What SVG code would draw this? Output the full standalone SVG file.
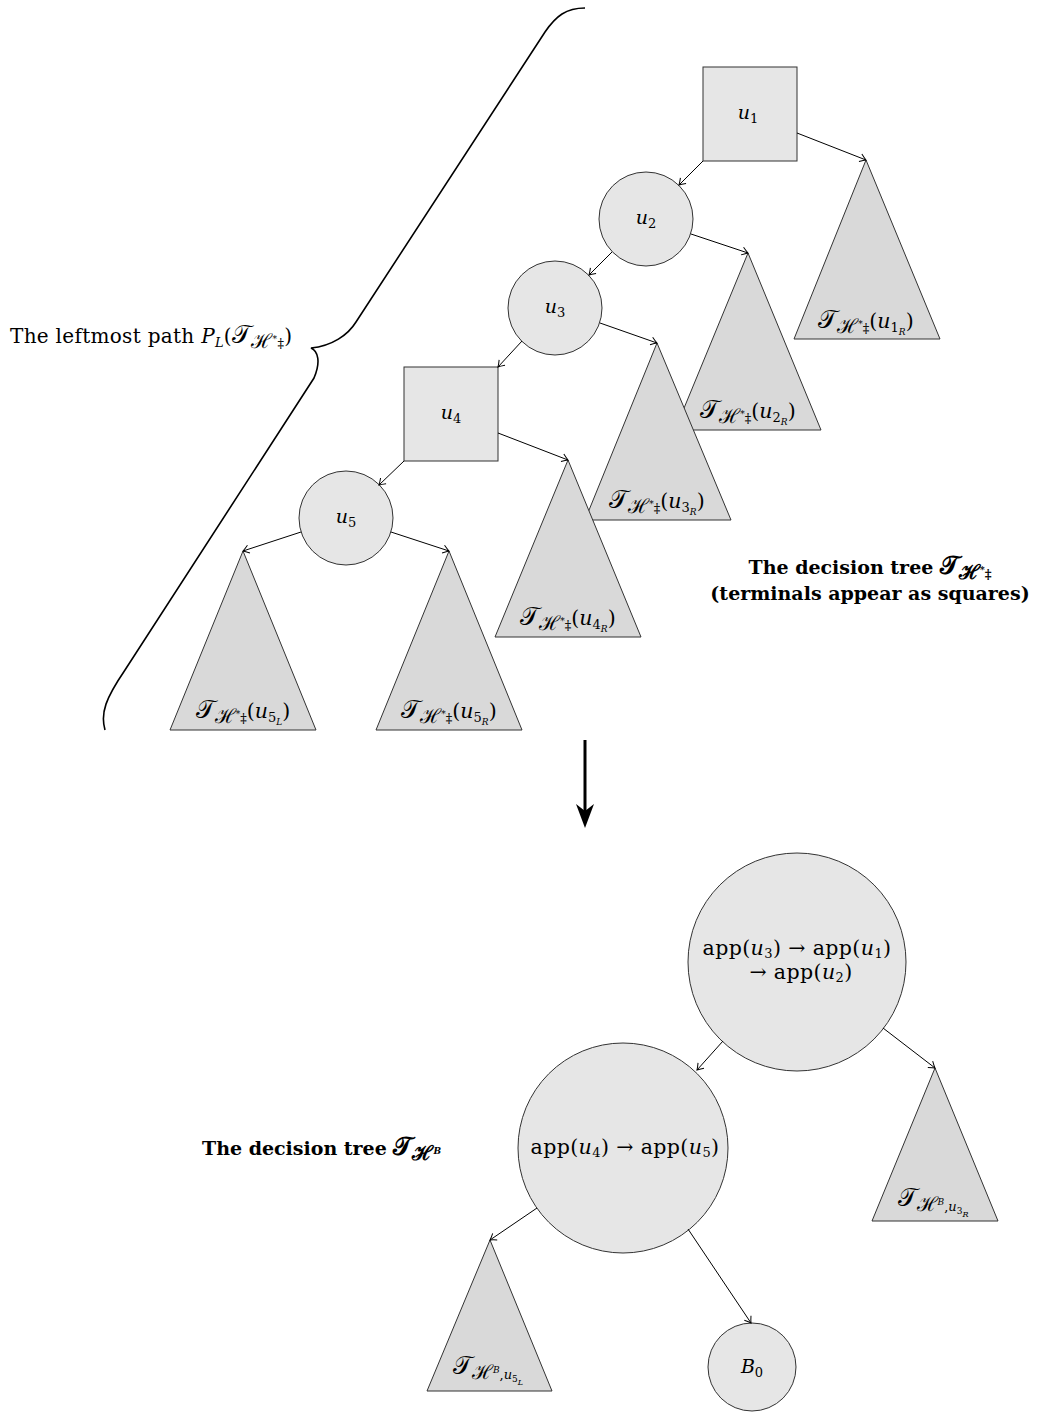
<svg xmlns="http://www.w3.org/2000/svg" width="1038" height="1412" viewBox="0 0 1038 1412">
<style>
text{font-family:"DejaVu Serif","Liberation Serif",serif;font-size:19px;fill:#000}
.b{font-weight:bold;font-size:19px}
.i{font-style:italic}
.s{font-size:13px}
.ss{font-size:9px}
.T{font-size:25px}
.H{font-size:20px}
.lb{font-size:20.5px}
.pl{font-size:20px}
.ap{font-size:20.5px;letter-spacing:0.4px}
.nd{fill:#e6e6e6;stroke:#333;stroke-width:1}
.tr{fill:#d9d9d9;stroke:#333;stroke-width:1}
.e{fill:none;stroke:#000;stroke-width:1;marker-end:url(#a)}
</style>
<defs>
<marker id="a" viewBox="-8 -5 10 10" refX="0" refY="0" markerWidth="10" markerHeight="10" markerUnits="userSpaceOnUse" orient="auto">
<path d="M-6,-4 Q-2,-1 0,0 Q-2,1 -6,4" fill="none" stroke="#000" stroke-width="1"/>
</marker>
</defs>

<g id="brace">
<path d="M585,8 C566,8 556,16 545,32 L356,322 C348,335 332,346 311,348 C318,351 321,362 314,378 L125,670 C106,698 100,713 105,730" fill="none" stroke="#000" stroke-width="1.6"/>
<text class="pl" x="10" y="343" letter-spacing="0.3">The leftmost path <tspan class="i">P</tspan><tspan class="s i" dy="4">L</tspan><tspan dy="-4">(</tspan><tspan class="T">𝒯</tspan><tspan class="H" dy="5">ℋ</tspan><tspan class="ss" dy="-6">*</tspan><tspan class="s" dy="6">‡</tspan><tspan dy="-5">)</tspan></text>
</g>

<g id="T1"><polygon class="tr" points="866,160 940,339 794,339"/>
<text class="lb" x="866" y="328" text-anchor="middle"><tspan class="T">𝒯</tspan><tspan class="H" dy="5">ℋ</tspan><tspan class="ss" dy="-6">*</tspan><tspan class="s" dy="6">‡</tspan><tspan dy="-5">(</tspan><tspan class="i">u</tspan><tspan class="s" dy="4">1</tspan><tspan class="ss i" dy="3">R</tspan><tspan dy="-7">)</tspan></text></g>
<g id="T2"><polygon class="tr" points="748,253 821,430 675,430"/>
<text class="lb" x="748" y="418" text-anchor="middle"><tspan class="T">𝒯</tspan><tspan class="H" dy="5">ℋ</tspan><tspan class="ss" dy="-6">*</tspan><tspan class="s" dy="6">‡</tspan><tspan dy="-5">(</tspan><tspan class="i">u</tspan><tspan class="s" dy="4">2</tspan><tspan class="ss i" dy="3">R</tspan><tspan dy="-7">)</tspan></text></g>
<g id="T3"><polygon class="tr" points="657,343 731,520 585,520"/>
<text class="lb" x="657" y="508" text-anchor="middle"><tspan class="T">𝒯</tspan><tspan class="H" dy="5">ℋ</tspan><tspan class="ss" dy="-6">*</tspan><tspan class="s" dy="6">‡</tspan><tspan dy="-5">(</tspan><tspan class="i">u</tspan><tspan class="s" dy="4">3</tspan><tspan class="ss i" dy="3">R</tspan><tspan dy="-7">)</tspan></text></g>
<g id="T4"><polygon class="tr" points="568,460 641,637 495,637"/>
<text class="lb" x="568" y="625" text-anchor="middle"><tspan class="T">𝒯</tspan><tspan class="H" dy="5">ℋ</tspan><tspan class="ss" dy="-6">*</tspan><tspan class="s" dy="6">‡</tspan><tspan dy="-5">(</tspan><tspan class="i">u</tspan><tspan class="s" dy="4">4</tspan><tspan class="ss i" dy="3">R</tspan><tspan dy="-7">)</tspan></text></g>
<g id="T5L"><polygon class="tr" points="243,551 316,730 170,730"/>
<text class="lb" x="243" y="718" text-anchor="middle"><tspan class="T">𝒯</tspan><tspan class="H" dy="5">ℋ</tspan><tspan class="ss" dy="-6">*</tspan><tspan class="s" dy="6">‡</tspan><tspan dy="-5">(</tspan><tspan class="i">u</tspan><tspan class="s" dy="4">5</tspan><tspan class="ss i" dy="3">L</tspan><tspan dy="-7">)</tspan></text></g>
<g id="T5R"><polygon class="tr" points="449,551 522,730 376,730"/>
<text class="lb" x="449" y="718" text-anchor="middle"><tspan class="T">𝒯</tspan><tspan class="H" dy="5">ℋ</tspan><tspan class="ss" dy="-6">*</tspan><tspan class="s" dy="6">‡</tspan><tspan dy="-5">(</tspan><tspan class="i">u</tspan><tspan class="s" dy="4">5</tspan><tspan class="ss i" dy="3">R</tspan><tspan dy="-7">)</tspan></text></g>

<g id="u1"><rect class="nd" x="703" y="67" width="94" height="94"/>
<text x="748" y="119" text-anchor="middle"><tspan class="i">u</tspan><tspan class="s" dy="4">1</tspan></text></g>
<g id="u2"><circle class="nd" cx="646" cy="219" r="47"/>
<text x="646" y="224" text-anchor="middle"><tspan class="i">u</tspan><tspan class="s" dy="4">2</tspan></text></g>
<g id="u3"><circle class="nd" cx="555" cy="308" r="47"/>
<text x="555" y="313" text-anchor="middle"><tspan class="i">u</tspan><tspan class="s" dy="4">3</tspan></text></g>
<g id="u4"><rect class="nd" x="404" y="367" width="94" height="94"/>
<text x="451" y="419" text-anchor="middle"><tspan class="i">u</tspan><tspan class="s" dy="4">4</tspan></text></g>
<g id="u5"><circle class="nd" cx="346" cy="518" r="47"/>
<text x="346" y="523" text-anchor="middle"><tspan class="i">u</tspan><tspan class="s" dy="4">5</tspan></text></g>

<g id="caption1">
<text class="b" x="870" y="574" text-anchor="middle">The decision tree <tspan class="T">𝒯</tspan><tspan class="H" dy="5">ℋ</tspan><tspan class="ss" dy="-6">*</tspan><tspan class="s" dy="6">‡</tspan></text>
<text class="b" x="870" y="600" text-anchor="middle">(terminals appear as squares)</text>
</g>

<g id="bigarrow">
<line x1="585" y1="740" x2="585" y2="812" stroke="#000" stroke-width="3"/>
<polygon points="585,828 576,804 585,811 594,804" fill="#000"/>
</g>

<g id="R3"><polygon class="tr" points="935,1068 998,1221 872,1221"/>
<text class="lb" x="933" y="1206" text-anchor="middle"><tspan class="T">𝒯</tspan><tspan class="H" dy="5">ℋ</tspan><tspan class="ss i" dy="-6">B</tspan><tspan class="s" dy="6">,</tspan><tspan class="s i">u</tspan><tspan class="ss" dy="3">3</tspan><tspan class="ss i" dy="3" style="font-size:8px">R</tspan></text></g>
<g id="L5"><polygon class="tr" points="490,1240 552,1391 427,1391"/>
<text class="lb" x="488" y="1374" text-anchor="middle"><tspan class="T">𝒯</tspan><tspan class="H" dy="5">ℋ</tspan><tspan class="ss i" dy="-6">B</tspan><tspan class="s" dy="6">,</tspan><tspan class="s i">u</tspan><tspan class="ss" dy="3">5</tspan><tspan class="ss i" dy="3" style="font-size:8px">L</tspan></text></g>

<g id="root"><circle class="nd" cx="797" cy="962" r="109"/>
<text class="ap" x="797" y="955" text-anchor="middle">app(<tspan class="i">u</tspan><tspan class="s" dy="3">3</tspan><tspan dy="-3">) → app(</tspan><tspan class="i">u</tspan><tspan class="s" dy="3">1</tspan><tspan dy="-3">)</tspan></text>
<text class="ap" x="801" y="979" text-anchor="middle">→ app(<tspan class="i">u</tspan><tspan class="s" dy="3">2</tspan><tspan dy="-3">)</tspan></text></g>
<g id="child"><circle class="nd" cx="623" cy="1148" r="105"/>
<text class="ap" x="625" y="1154" text-anchor="middle">app(<tspan class="i">u</tspan><tspan class="s" dy="3">4</tspan><tspan dy="-3">) → app(</tspan><tspan class="i">u</tspan><tspan class="s" dy="3">5</tspan><tspan dy="-3">)</tspan></text></g>
<g id="B0"><circle class="nd" cx="752" cy="1367" r="44"/>
<text x="752" y="1373" text-anchor="middle"><tspan class="i">B</tspan><tspan class="s" dy="4">0</tspan></text></g>

<g id="caption2">
<text class="b" x="202" y="1155">The decision tree <tspan class="T">𝒯</tspan><tspan class="H" dy="5">ℋ</tspan><tspan class="ss i" dy="-6">B</tspan></text>
</g>

<g id="connectors">
<line class="e" x1="797" y1="133" x2="866" y2="160"/>
<line class="e" x1="703" y1="161" x2="679" y2="185"/>
<line class="e" x1="691" y1="234" x2="748" y2="253"/>
<line class="e" x1="612" y1="252" x2="589" y2="275"/>
<line class="e" x1="600" y1="323" x2="657" y2="343"/>
<line class="e" x1="522" y1="341" x2="498" y2="367"/>
<line class="e" x1="498" y1="433" x2="568" y2="460"/>
<line class="e" x1="404" y1="461" x2="379" y2="485"/>
<line class="e" x1="301" y1="532" x2="243" y2="551"/>
<line class="e" x1="391" y1="532" x2="449" y2="551"/>
<line class="e" x1="723" y1="1041" x2="697" y2="1070"/>
<line class="e" x1="883" y1="1028" x2="935" y2="1068"/>
<line class="e" x1="537" y1="1208" x2="490" y2="1240"/>
<line class="e" x1="688" y1="1229" x2="751" y2="1323"/>
</g>
</svg>
